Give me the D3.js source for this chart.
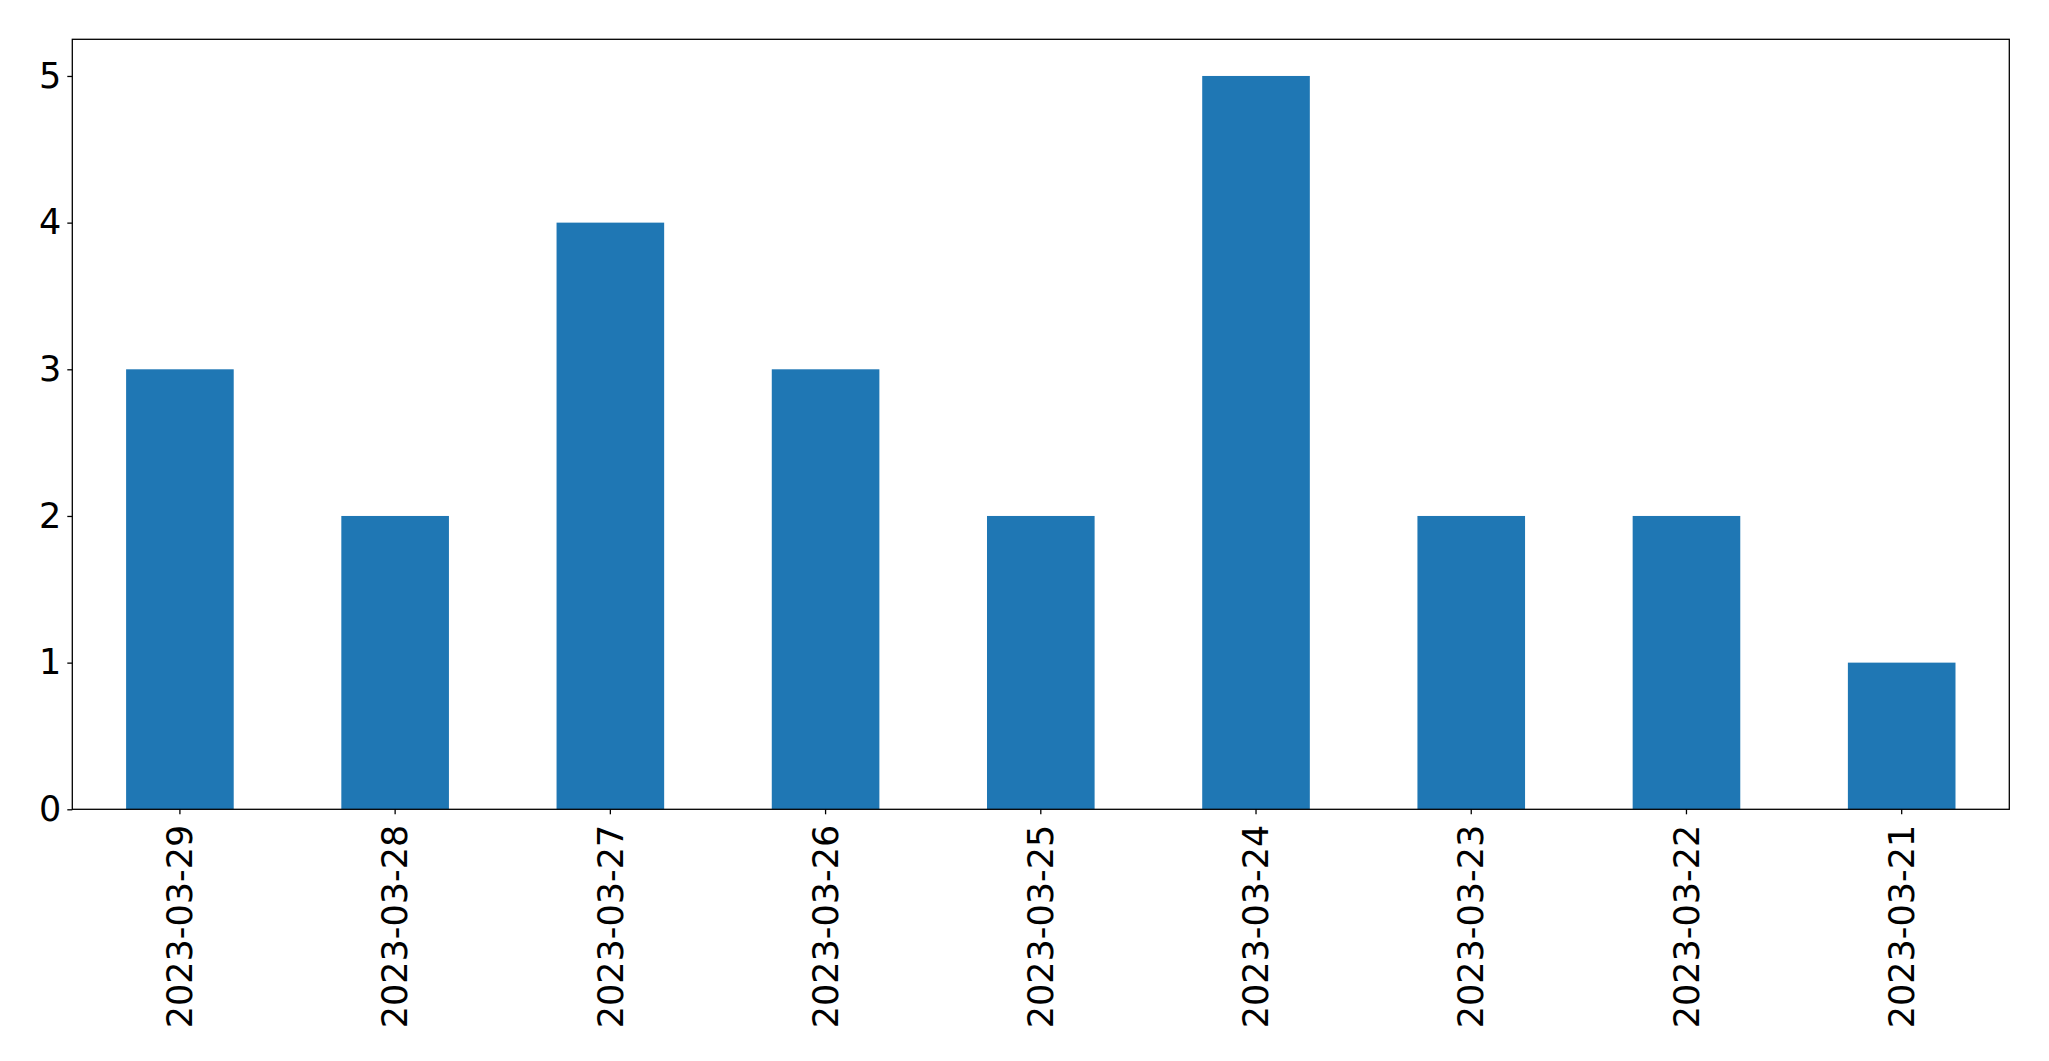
<!DOCTYPE html>
<html>
<head>
<meta charset="utf-8">
<script src="https://cdn.jsdelivr.net/npm/d3@7"></script>
<style>
  body { margin: 0; background: #fff; }
  svg { display: block; }
</style>
</head>
<body>
<div id="holder"></div>
<script>
const dates = ['2023-03-29', '2023-03-28', '2023-03-27', '2023-03-26', '2023-03-25',
  '2023-03-24', '2023-03-23', '2023-03-22', '2023-03-21'];
const counts = [3, 2, 4, 3, 2, 5, 2, 2, 1];
const yTicks = [0, 1, 2, 3, 4, 5];

const width = 2049;
const height = 1061;
const margin = { left: 72.3, right: 2049 - 2009.3, top: 39.3, bottom: 1061 - 809.3 };
const fontSize = 35;

const svg = d3.select('#holder').append('svg')
  .attr('width', width)
  .attr('height', height);

const x = d3.scaleBand()
  .domain(dates)
  .range([margin.left, width - margin.right])
  .paddingInner(0.5)
  .paddingOuter(0.25);

const y = d3.scaleLinear()
  .domain([0, d3.max(counts) * 1.05])
  .range([height - margin.bottom, margin.top]);

svg.append('g').selectAll('rect').data(counts).enter()
  .append('rect')
  .attr('x', (d, i) => x(dates[i]))
  .attr('y', d => y(d))
  .attr('width', x.bandwidth())
  .attr('height', d => y(0) - y(d))
  .attr('fill', '#1f77b4');

// frame
svg.append('rect')
  .attr('x', margin.left)
  .attr('y', margin.top)
  .attr('width', width - margin.right - margin.left)
  .attr('height', height - margin.bottom - margin.top)
  .attr('fill', 'none')
  .attr('stroke', '#000')
  .attr('stroke-width', 1.3);

// y axis
const yAxis = svg.append('g')
  .attr('transform', `translate(${margin.left},0)`)
  .call(d3.axisLeft(y).tickValues(yTicks).tickSize(5).tickPadding(6).tickFormat(d3.format('d')));
yAxis.select('.domain').remove();
yAxis.selectAll('line').attr('stroke-width', 1.3);
yAxis.selectAll('text')
  .attr('font-family', 'DejaVu Sans')
  .attr('font-size', fontSize)
  .attr('fill', '#000');

// x axis
const xAxis = svg.append('g')
  .attr('transform', `translate(0,${height - margin.bottom})`)
  .call(d3.axisBottom(x).tickSize(5).tickSizeOuter(0));
xAxis.select('.domain').remove();
xAxis.selectAll('line').attr('stroke-width', 1.3);
xAxis.selectAll('text')
  .attr('font-family', 'DejaVu Sans')
  .attr('font-size', fontSize)
  .attr('fill', '#000')
  .attr('text-anchor', 'end')
  .attr('transform', 'translate(0,15.5) rotate(-90)')
  .attr('x', 0)
  .attr('y', 0)
  .attr('dy', '0.35em');
</script>
</body>
</html>
